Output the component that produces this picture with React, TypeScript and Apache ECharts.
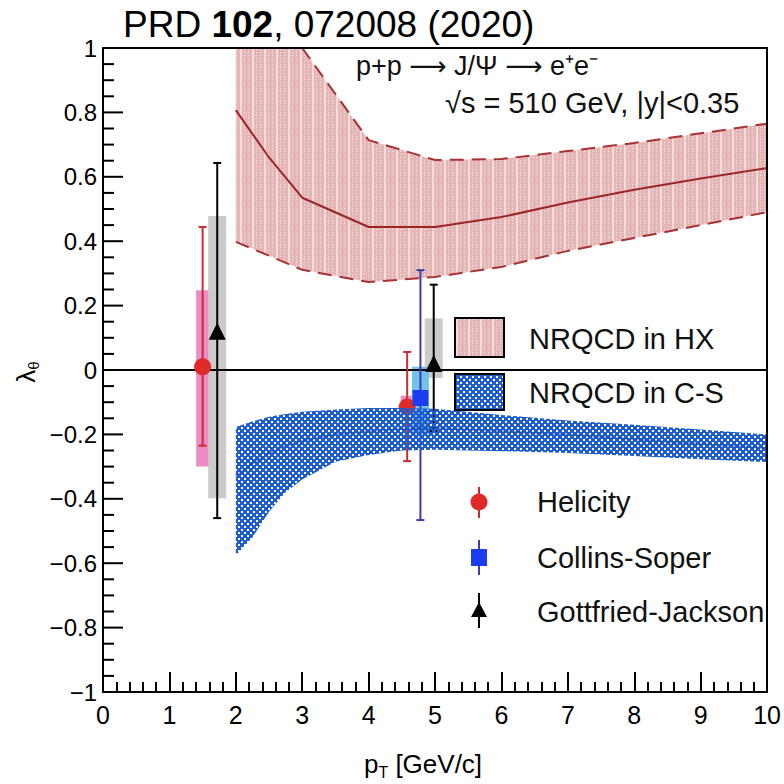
import React, { useEffect, useRef } from "react";
import * as echarts from "echarts";

// ---------- data ----------
// NRQCD prediction in the helicity (HX) frame
const hxPt = [2, 2.5, 3, 4, 5, 6, 7, 8, 9, 10];
const hxUpper = [1, 1, 1, 0.714, 0.652, 0.655, 0.68, 0.705, 0.735, 0.765];
const hxCentral = [0.807, 0.66, 0.535, 0.444, 0.444, 0.475, 0.52, 0.56, 0.595, 0.627];
const hxLower = [0.398, 0.355, 0.311, 0.273, 0.289, 0.32, 0.37, 0.41, 0.45, 0.49];

// NRQCD prediction in the Collins-Soper (C-S) frame
const csPt = [2, 2.25, 2.5, 2.75, 3, 3.5, 4, 4.5, 5, 6, 7, 8, 9, 10];
const csUpper = [-0.177, -0.16, -0.145, -0.137, -0.13, -0.123, -0.118, -0.118, -0.12, -0.14, -0.157, -0.17, -0.185, -0.2];
const csCentral = [-0.33, -0.29, -0.26, -0.235, -0.22, -0.2, -0.19, -0.183, -0.18, -0.19, -0.2, -0.215, -0.23, -0.243];
const csLower = [-0.575, -0.52, -0.44, -0.38, -0.34, -0.285, -0.264, -0.25, -0.248, -0.252, -0.258, -0.267, -0.277, -0.286];

// Measurements
const helX = [1.5, 4.58];
const helY = [0.01, -0.115];
const helStatLo = [-0.235, -0.283];
const helStatHi = [0.444, 0.056];
const helSysLo = [-0.3, -0.135];
const helSysHi = [0.248, -0.08];

const csX = [4.78];
const csY = [-0.087];
const csStatLo = [-0.466];
const csStatHi = [0.31];
const csSysLo = [-0.2];
const csSysHi = [0.01];

const gjX = [1.72, 4.98];
const gjY = [0.12, 0.02];
const gjStatLo = [-0.46, -0.19];
const gjStatHi = [0.643, 0.265];
const gjSysLo = [-0.398, -0.025];
const gjSysHi = [0.478, 0.16];

// y-axis: range, major step and number of minor divisions
const yMin = -1;
const yMax = 1;
const yMajorStep = 0.2;
const yMinorDiv = 4;

const legendBands = ["NRQCD in HX", "NRQCD in C-S"];
const legendPoints = ["Helicity", "Collins-Soper", "Gottfried-Jackson"];

// ---------- styling ----------
const FONT = "'Liberation Sans', Arial, Helvetica, sans-serif";

function makeHxPattern() {
  const c = document.createElement("canvas");
  c.width = 12;
  c.height = 6;
  const ctx = c.getContext("2d")!;
  ctx.fillStyle = "#e6b5b5";
  ctx.fillRect(0, 0, 12, 6);
  ctx.fillStyle = "#f3dcdc";
  ctx.fillRect(0, 0, 2, 6);
  ctx.fillStyle = "#f8eaea";
  ctx.fillRect(4, 1, 1, 1);
  ctx.fillRect(8, 1, 1, 1);
  ctx.fillRect(4, 4, 1, 1);
  ctx.fillRect(8, 4, 1, 1);
  return { image: c, repeat: "repeat", imageWidth: 12, imageHeight: 6 };
}

function makeCsPattern() {
  const c = document.createElement("canvas");
  c.width = 6;
  c.height = 6;
  const ctx = c.getContext("2d")!;
  ctx.fillStyle = "#1f5dcc";
  ctx.fillRect(0, 0, 6, 6);
  ctx.clearRect(1, 1, 2, 2);
  ctx.clearRect(4, 4, 2, 2);
  return { image: c, repeat: "repeat", imageWidth: 6, imageHeight: 6 };
}

function bandSeries(xs: number[], up: number[], lo: number[], fill: any, z: number) {
  return {
    type: "custom",
    z,
    silent: true,
    data: [[xs[0], lo[0]]],
    renderItem: (_p: any, api: any) => {
      const pts: number[][] = [];
      for (let i = 0; i < xs.length; i++) pts.push(api.coord([xs[i], up[i]]));
      for (let i = xs.length - 1; i >= 0; i--) pts.push(api.coord([xs[i], lo[i]]));
      return { type: "polygon", shape: { points: pts }, style: { fill, stroke: null } };
    },
  };
}

function lineSeries(xs: number[], ys: number[], color: string, dashed: boolean, width: number, z: number, opacity = 1) {
  return {
    type: "line",
    z,
    silent: true,
    symbol: "none",
    data: xs.map((x, i) => [x, ys[i]]),
    lineStyle: { color, width, type: dashed ? [14, 8] : "solid", opacity },
  };
}

function errSeries(xs: number[], lo: number[], hi: number[], color: string, z: number) {
  return {
    type: "custom",
    z,
    silent: true,
    data: xs.map((x, i) => [x, lo[i], hi[i]]),
    encode: { x: 0, y: [1, 2] },
    renderItem: (_p: any, api: any) => {
      const x = api.value(0);
      const t = api.coord([x, api.value(2)]);
      const b = api.coord([x, api.value(1)]);
      const cap = 4;
      const st = { stroke: color, lineWidth: 2 };
      return {
        type: "group",
        children: [
          { type: "line", shape: { x1: t[0], y1: t[1], x2: b[0], y2: b[1] }, style: st },
          { type: "line", shape: { x1: t[0] - cap, y1: t[1], x2: t[0] + cap, y2: t[1] }, style: st },
          { type: "line", shape: { x1: b[0] - cap, y1: b[1], x2: b[0] + cap, y2: b[1] }, style: st },
        ],
      };
    },
  };
}

function sysSeries(xs: number[], lo: number[], hi: number[], color: string, halfW: number, z: number) {
  return {
    type: "custom",
    z,
    silent: true,
    data: xs.map((x, i) => [x, lo[i], hi[i]]),
    encode: { x: 0, y: [1, 2] },
    renderItem: (_p: any, api: any) => {
      const x = api.value(0);
      const t = api.coord([x, api.value(2)]);
      const b = api.coord([x, api.value(1)]);
      return {
        type: "rect",
        shape: { x: t[0] - halfW, y: t[1], width: 2 * halfW, height: b[1] - t[1] },
        style: { fill: color },
      };
    },
  };
}

function scatterSeries(xs: number[], ys: number[], symbol: string, size: number, color: string, z: number) {
  return {
    type: "scatter",
    z,
    silent: true,
    symbol,
    symbolSize: size,
    data: xs.map((x, i) => [x, ys[i]]),
    itemStyle: { color, opacity: 1 },
  };
}

// inward-pointing tick marks on the left (y) axis, placed through the axis scale
function yTickSeries() {
  const n = Math.round((yMax - yMin) / yMajorStep) * yMinorDiv;
  const data: number[][] = [];
  for (let i = 0; i <= n; i++) data.push([0, yMin + (i * yMajorStep) / yMinorDiv, i % yMinorDiv === 0 ? 1 : 0]);
  return {
    type: "custom",
    z: 12,
    silent: true,
    clip: false,
    data,
    renderItem: (_p: any, api: any) => {
      const p = api.coord([api.value(0), api.value(1)]);
      const len = api.value(2) ? 20 : 11;
      return {
        type: "line",
        shape: { x1: p[0], y1: p[1], x2: p[0] + len, y2: p[1] },
        style: { stroke: "#000", lineWidth: 2 },
      };
    },
  };
}

export default function App() {
  const ref = useRef<HTMLDivElement>(null);

  useEffect(() => {
    if (!ref.current) return;
    document.body.style.margin = "0";
    const chart = echarts.init(ref.current, null, { renderer: "svg" });
    const hxFill = makeHxPattern();
    const csFill = makeCsPattern();
    const csFill2 = makeCsPattern();
    const hxFill2 = makeHxPattern();

    const axisBlack = { color: "#000", width: 2 };
    const yFmt = (v: number) => {
      const r = Math.round(v * 10) / 10;
      return r < 0 ? "\u2212" + Math.abs(r) : String(r);
    };

    const option: any = {
      animation: false,
      backgroundColor: "#fff",
      grid: { left: 103, right: 14, top: 48, bottom: 92 },
      xAxis: [
        {
          type: "value",
          min: 0,
          max: 10,
          interval: 1,
          position: "bottom",
          z: 10,
          axisLine: { onZero: false, lineStyle: axisBlack },
          axisTick: { inside: true, length: 20, lineStyle: axisBlack },
          minorTick: { show: true, splitNumber: 5, length: 10, lineStyle: axisBlack },
          splitLine: { show: false },
          axisLabel: { color: "#000", fontSize: 25, fontFamily: FONT, margin: 10 },
        },
        {
          type: "value",
          min: 0,
          max: 10,
          position: "top",
          z: 10,
          axisLine: { show: true, onZero: false, lineStyle: axisBlack },
          axisTick: { show: false },
          axisLabel: { show: false },
          splitLine: { show: false },
        },
      ],
      yAxis: [
        {
          type: "value",
          min: yMin,
          max: yMax,
          interval: yMajorStep,
          position: "left",
          z: 10,
          axisLine: { show: true, onZero: false, lineStyle: axisBlack },
          axisTick: { show: false },
          minorTick: { show: false },
          splitLine: { show: false },
          axisLabel: { color: "#000", fontSize: 24, fontFamily: FONT, margin: 6, formatter: yFmt },
        },
        {
          type: "value",
          min: yMin,
          max: yMax,
          position: "right",
          z: 10,
          axisLine: { show: true, onZero: false, lineStyle: axisBlack },
          axisTick: { show: false },
          axisLabel: { show: false },
          splitLine: { show: false },
        },
      ],
      series: [
        bandSeries(hxPt, hxUpper, hxLower, hxFill, 1),
        lineSeries(hxPt, hxUpper, "#a83232", true, 2, 2),
        lineSeries(hxPt, hxLower, "#a83232", true, 2, 2),
        lineSeries(hxPt, hxCentral, "#9c2626", false, 2, 2),
        sysSeries(helX, helSysLo, helSysHi, "#ea8cc6", 6.5, 3),
        sysSeries(gjX, gjSysLo, gjSysHi, "#cbcbcb", 9, 3),
        sysSeries(csX, csSysLo, csSysHi, "#72c2ee", 8.5, 3),
        lineSeries([0, 10], [0, 0], "#000", false, 2, 4),
        errSeries(helX, helStatLo, helStatHi, "#cc2b35", 5),
        errSeries(csX, csStatLo, csStatHi, "#3c3caa", 5),
        errSeries(gjX, gjStatLo, gjStatHi, "#000", 5),
        scatterSeries(helX, helY, "circle", 17, "#e02a2a", 6),
        scatterSeries(csX, csY, "rect", 16, "#1c3cef", 6),
        scatterSeries(gjX, gjY, "triangle", 17, "#000", 6),
        bandSeries(csPt, csUpper, csLower, csFill, 7),
        lineSeries(csPt, csCentral, "#1d4fae", false, 2, 8, 0.55),
        yTickSeries(),
      ],
      graphic: [
        {
          type: "text",
          x: 123,
          y: 24,
          z: 20,
          style: {
            text: "{a|PRD }{b|102}{a|, 072008 (2020)}",
            verticalAlign: "middle",
            align: "left",
            fill: "#000",
            rich: {
              a: { fontSize: 37, fontFamily: FONT, fill: "#000" },
              b: { fontSize: 37, fontFamily: FONT, fontWeight: "bold", fill: "#000" },
            },
          },
        },
        {
          type: "text",
          x: 356,
          y: 66,
          z: 20,
          style: {
            text: "{a|p+p }{r|\u27F6}{a| J/\u03A8 }{r|\u27F6}{a| e\u207Ae\u207B}",
            verticalAlign: "middle",
            rich: {
              a: { fontSize: 27, fontFamily: FONT, fill: "#111" },
              r: { fontSize: 26, fontFamily: "'DejaVu Sans', sans-serif", fill: "#111" },
            },
          },
        },
        {
          type: "text",
          x: 445,
          y: 103,
          z: 20,
          style: {
            text: "\u221As = 510 GeV, |y|<0.35",
            fontSize: 29,
            fontFamily: FONT,
            fill: "#111",
            verticalAlign: "middle",
          },
        },
        {
          type: "text",
          x: 423,
          y: 764,
          z: 20,
          style: {
            text: "{a|p}{s|T}{a| [GeV/c]}",
            align: "center",
            verticalAlign: "middle",
            rich: {
              a: { fontSize: 26, fontFamily: FONT, fill: "#000", lineHeight: 32, verticalAlign: "middle" },
              s: { fontSize: 16, fontFamily: FONT, fill: "#000", lineHeight: 32, verticalAlign: "bottom", padding: [13, 0, 0, 0] },
            },
          },
        },
        {
          type: "text",
          x: 26,
          y: 372,
          z: 20,
          rotation: Math.PI / 2,
          style: {
            text: "{a|\u03BB}{s|\u03B8}",
            align: "center",
            verticalAlign: "middle",
            rich: {
              a: { fontSize: 26, fontFamily: FONT, fill: "#000", lineHeight: 30, verticalAlign: "middle" },
              s: { fontSize: 15, fontFamily: FONT, fill: "#000", lineHeight: 30, verticalAlign: "bottom", padding: [12, 0, 0, 0] },
            },
          },
        },
        // legend: bands
        {
          type: "rect",
          z: 20,
          shape: { x: 455, y: 318, width: 49, height: 39 },
          style: { fill: hxFill2, stroke: "#000", lineWidth: 2 },
        },
        {
          type: "text",
          x: 529,
          y: 339,
          z: 20,
          style: { text: legendBands[0], fontSize: 29, fontFamily: FONT, fill: "#111", verticalAlign: "middle" },
        },
        {
          type: "rect",
          z: 20,
          shape: { x: 455, y: 374, width: 49, height: 36 },
          style: { fill: csFill2, stroke: "#000", lineWidth: 2 },
        },
        {
          type: "text",
          x: 529,
          y: 393,
          z: 20,
          style: { text: legendBands[1], fontSize: 29, fontFamily: FONT, fill: "#111", verticalAlign: "middle" },
        },
        // legend: points
        { type: "line", z: 20, shape: { x1: 479, y1: 487, x2: 479, y2: 518 }, style: { stroke: "#cc2b35", lineWidth: 2 } },
        { type: "circle", z: 21, shape: { cx: 479, cy: 502, r: 8.5 }, style: { fill: "#e02a2a" } },
        {
          type: "text",
          x: 537,
          y: 502,
          z: 20,
          style: { text: legendPoints[0], fontSize: 29, fontFamily: FONT, fill: "#111", verticalAlign: "middle" },
        },
        { type: "line", z: 20, shape: { x1: 479, y1: 540, x2: 479, y2: 575 }, style: { stroke: "#3c3caa", lineWidth: 2 } },
        { type: "rect", z: 21, shape: { x: 471, y: 549, width: 16, height: 17 }, style: { fill: "#1c3cef" } },
        {
          type: "text",
          x: 537,
          y: 558,
          z: 20,
          style: { text: legendPoints[1], fontSize: 29, fontFamily: FONT, fill: "#111", verticalAlign: "middle" },
        },
        { type: "line", z: 20, shape: { x1: 479, y1: 593, x2: 479, y2: 628 }, style: { stroke: "#000", lineWidth: 2 } },
        { type: "polygon", z: 21, shape: { points: [[479, 602], [487, 617], [471, 617]] }, style: { fill: "#000" } },
        {
          type: "text",
          x: 537,
          y: 612,
          z: 20,
          style: { text: legendPoints[2], fontSize: 29, fontFamily: FONT, fill: "#111", verticalAlign: "middle" },
        },
      ],
    };

    chart.setOption(option);
    return () => chart.dispose();
  }, []);

  return (
    <div
      ref={ref}
      style={{ position: "absolute", left: 0, top: 0, width: 784, height: 784, background: "#fff" }}
    />
  );
}
